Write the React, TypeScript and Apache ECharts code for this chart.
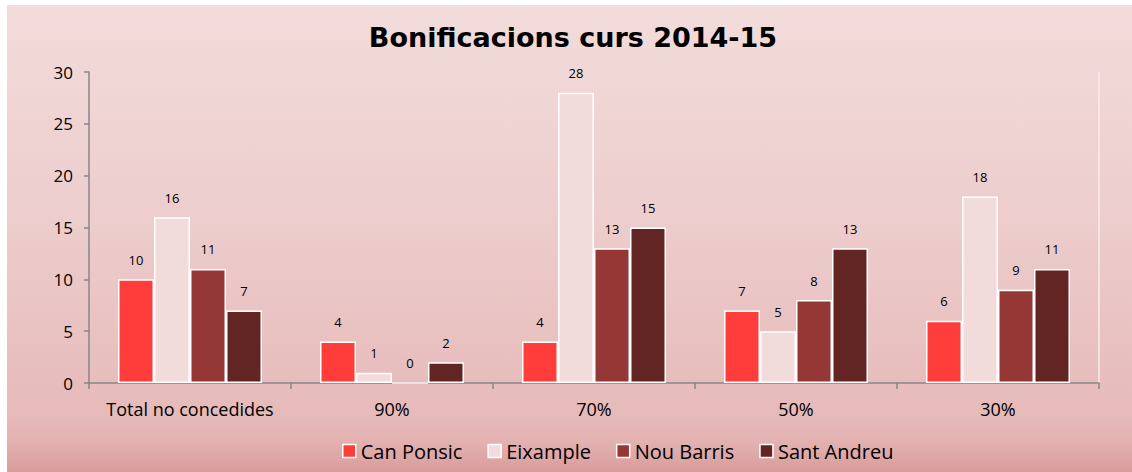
import React, { useEffect, useRef } from "react";
import * as echarts from "echarts";

const categories = ["Total no concedides", "90%", "70%", "50%", "30%"];
const seriesNames = ["Can Ponsic", "Eixample", "Nou Barris", "Sant Andreu"];
const canPonsic = [10, 4, 4, 7, 6];
const eixample = [16, 1, 28, 5, 18];
const nouBarris = [11, 0, 13, 8, 9];
const santAndreu = [7, 2, 15, 13, 11];
const colors = ["#FF3D3B", "#F2DCDB", "#953735", "#632523"];
const titleText = "Bonificacions curs 2014-15";

export default function App() {
  const ref = useRef<HTMLDivElement>(null);
  useEffect(() => {
    if (!ref.current) return;
    const chart = echarts.init(ref.current, undefined, { renderer: "svg" });
    const values = [canPonsic, eixample, nouBarris, santAndreu];
    const font = "'Open Sans', 'Noto Sans', sans-serif";
    chart.setOption({
      animation: false,
      backgroundColor: "transparent",
      title: {
        text: titleText,
        left: 561,
        top: 14,
        textAlign: "center",
        textStyle: {
          fontFamily: "'DejaVu Sans', Verdana, sans-serif",
          fontWeight: "bold",
          fontSize: 27,
          color: "#000",
        },
      },
      legend: {
        top: 431,
        left: 330,
        itemWidth: 13,
        itemHeight: 13,
        itemGap: 25,
        icon: "rect",
        textStyle: { fontFamily: font, fontSize: 20, color: "#000" },
        itemStyle: { borderColor: "#fff", borderWidth: 1.5 },
        data: seriesNames,
      },
      grid: { left: 82, right: 33, top: 67, bottom: 89, containLabel: false },
      xAxis: {
        type: "category",
        data: categories,
        axisLine: { lineStyle: { color: "#878787", width: 1.5 } },
        axisTick: { show: true, interval: 0, length: 6, lineStyle: { color: "#878787", width: 1.5 } },
        axisLabel: { interval: 0, fontFamily: font, fontSize: 18, color: "#000", margin: 17 },
      },
      yAxis: [
        {
          type: "value",
          min: 0,
          max: 30,
          interval: 5,
          splitLine: { show: false },
          axisLine: { show: true, lineStyle: { color: "#878787", width: 1.5 } },
          axisTick: { show: true, length: 5, lineStyle: { color: "#878787", width: 1.5 } },
          axisLabel: { fontFamily: font, fontSize: 17, color: "#000", margin: 16 },
        },
        {
          type: "value",
          min: 0,
          max: 30,
          interval: 5,
          position: "right",
          splitLine: { show: false },
          axisLine: { show: true, lineStyle: { color: "#FAEDED", width: 1.5 } },
          axisTick: { show: false },
          axisLabel: { show: false },
        },
      ],
      series: seriesNames.map((name, i) => ({
        name,
        type: "bar",
        data: values[i],
        barWidth: 36,
        barGap: "0%",
        itemStyle: { color: colors[i], borderColor: "#fff", borderWidth: 1.5 },
        label: {
          show: true,
          position: "top",
          distance: 13,
          fontFamily: font,
          fontSize: 13,
          color: "#000",
        },
      })),
    });
    return () => chart.dispose();
  }, []);
  return (
    <div style={{ position: "absolute", left: 0, top: 0, width: 1132, height: 472, background: "#fff" }}>
      <div
        style={{
          position: "absolute",
          left: 7,
          top: 5,
          width: 1125,
          height: 467,
          background:
            "linear-gradient(to bottom, #F2DCDB 0%, #EDCDCD 45%, #E6BAB9 88%, #E2B0AF 94%, #D99C9C 100%)",
        }}
      >
        <div ref={ref} style={{ width: 1125, height: 467 }} />
      </div>
    </div>
  );
}
